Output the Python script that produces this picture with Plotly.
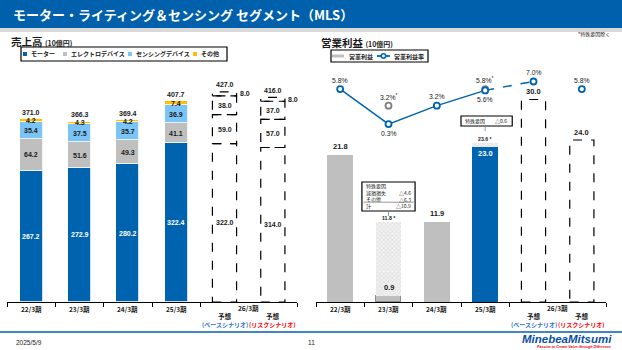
import plotly.graph_objects as go

# ---------------- data ----------------
periods = ["22/3期", "23/3期", "24/3期", "25/3期"]
forecast_year = "26/3期"
forecast_word = "予想"
scenarios = ["(ベースシナリオ)", "(リスクシナリオ)"]
scenario_colors = ["#2E75D0", "#FF0000"]

series_names = ["モーター", "エレクトロデバイス", "センシングデバイス", "その他"]
motor = [267.2, 272.9, 280.2, 322.4, 322.0, 314.0]
electro = [64.2, 51.6, 49.3, 41.1, 59.0, 57.0]
sensing = [35.4, 37.5, 35.7, 36.9, 38.0, 37.0]
other = [4.2, 4.3, 4.2, 7.4, 8.0, 8.0]
sales_total = [371.0, 366.3, 369.4, 407.7, 427.0, 416.0]

op_income = [21.8, 0.9, 11.9, 23.0, 30.0, 24.0]
special_items = [0, 10.9, 0, 0.6, 0, 0]
op_ex_special = [None, 11.8, None, 23.6, None, None]
op_margin = [5.8, 0.3, 3.2, 5.6, 7.0, 5.8]
op_margin_ex_special = [None, 3.2, None, 5.8, None, None]
special_23_rows = ["減損損失", "その他", "計"]
special_23_vals = [4.6, 6.3, 10.9]
special_25_val = 0.6

n_actual = 4
xs = list(range(6))
xa = xs[:n_actual]
xf = xs[n_actual:]

# ---------------- style ----------------
W, H = 622, 350
BLUE = "#0063B0"
GRAY = "#BFBFBF"
LBLUE = "#7AC4F7"
YELLOW = "#FFC000"
TXT = "#1A1A1A"
JP = "Noto Sans CJK JP"
NUM = "Liberation Sans, Arial"
seg_colors = [BLUE, GRAY, LBLUE, YELLOW]


def px(x):
    return x / W


def py(y):
    return 1 - y / H


PLOT_TOP, PLOT_BOT = 70, 302
ydom = [py(PLOT_BOT), py(PLOT_TOP)]

fig = go.Figure()
ann = []
shapes = []


def da(x, y, text, size, color=TXT, xref="x", yref="y", yshift=0, anchor="center",
       weight="bold", family=NUM):
    ann.append(dict(x=x, y=y, xref=xref, yref=yref, text=text, showarrow=False,
                    xanchor=anchor, yanchor="middle", yshift=yshift,
                    font=dict(size=size, color=color, family=family, weight=weight)))


def a(x, y, text, size, color=TXT, xref="paper", anchor="center", family=JP, weight="bold"):
    ann.append(dict(x=x, y=py(y), xref=xref, yref="paper", text=text, showarrow=False,
                    xanchor=anchor, yanchor="middle",
                    font=dict(size=size, color=color, family=family, weight=weight)))


def dashed_box(i, y0, y1, w, xr, yr):
    fig.add_trace(go.Scatter(x=[i - w, i + w, i + w, i - w, i - w], y=[y0, y0, y1, y1, y0],
                             mode="lines", line=dict(color="black", width=1.2, dash="dash"),
                             xaxis=xr, yaxis=yr, showlegend=False, hoverinfo="skip"))


# ---------------- left: sales ----------------
segments = [motor, electro, sensing, other]
for name, vals, col in zip(series_names, segments, seg_colors):
    fig.add_trace(go.Bar(x=xa, y=vals[:n_actual], name=name, marker_color=col,
                         marker_line=dict(color="white", width=0.8), width=0.48,
                         xaxis="x", yaxis="y", showlegend=False, hoverinfo="skip"))

for i in xf:
    base = 0
    for vals in segments:
        dashed_box(i, base, base + vals[i], 0.25, "x", "y")
        base += vals[i]

base = [0] * 6
for k, vals in enumerate(segments):
    for i in xs:
        mid = base[i] + vals[i] / 2
        lab = f"{vals[i]:.1f}"
        if k == 3 and i in xf:
            da(i + 0.28, mid, lab, 7, anchor="left")
        else:
            col = "white" if (k == 0 and i < n_actual) else TXT
            da(i, mid, lab, 7, col)
    base = [base[i] + vals[i] for i in xs]
for i in xs:
    da(i, sales_total[i], f"{sales_total[i]:.1f}", 7, yshift=7)

# ---------------- right: operating income ----------------
op_cols = [GRAY, GRAY, GRAY, BLUE]
op_line = ["rgba(0,0,0,0)", "#8C8C8C", "rgba(0,0,0,0)", "rgba(0,0,0,0)"]
fig.add_trace(go.Bar(x=xa, y=op_income[:n_actual], name="営業利益",
                     marker=dict(color=op_cols, line=dict(color=op_line, width=1)),
                     width=0.53, xaxis="x2", yaxis="y2", showlegend=False, hoverinfo="skip"))
fig.add_trace(go.Bar(x=xa, y=special_items[:n_actual],
                     marker=dict(color="white", line=dict(width=0),
                                 pattern=dict(shape="x", fgcolor="#CFCFCF", bgcolor="#F4F4F4",
                                              size=3, solidity=0.5)),
                     width=0.53, xaxis="x2", yaxis="y2", showlegend=False, hoverinfo="skip"))
for i in xf:
    dashed_box(i, 0, op_income[i], 0.25, "x2", "y2")

for i in xs:
    if i == 3:
        da(i, op_income[i], f"{op_income[i]:.1f}", 7.5, "white", "x2", "y2", yshift=-7)
    else:
        da(i, op_income[i], f"{op_income[i]:.1f}", 7.5, TXT, "x2", "y2", yshift=8)
    if op_ex_special[i] is not None:
        da(i, op_ex_special[i], f"{op_ex_special[i]:.1f} *", 5.2, TXT, "x2", "y2", yshift=4)

# margin line
fig.add_trace(go.Scatter(x=xa, y=op_margin[:n_actual], mode="lines",
                         line=dict(color=BLUE, width=1.5),
                         xaxis="x2", yaxis="y3", showlegend=False, hoverinfo="skip"))
fig.add_trace(go.Scatter(x=[3, 4], y=[op_margin[3], op_margin[4]], mode="lines",
                         line=dict(color=BLUE, width=1.5, dash="dash"),
                         xaxis="x2", yaxis="y3", showlegend=False, hoverinfo="skip"))
ex_idx = [i for i in xs if op_margin_ex_special[i] is not None]
fig.add_trace(go.Scatter(x=ex_idx, y=[op_margin_ex_special[i] for i in ex_idx], mode="markers",
                         marker=dict(symbol="circle", size=6, color="white",
                                     line=dict(color="#7F7F7F", width=1.8)),
                         xaxis="x2", yaxis="y3", showlegend=False, hoverinfo="skip"))
fig.add_trace(go.Scatter(x=xs, y=op_margin, mode="markers",
                         marker=dict(symbol="circle", size=6, color="white",
                                     line=dict(color=BLUE, width=1.8)),
                         xaxis="x2", yaxis="y3", showlegend=False, hoverinfo="skip"))
below = [False, True, False, True, False, False]
for i in xs:
    da(i, op_margin[i], f"{op_margin[i]:.1f}%", 6.8, TXT, "x2", "y3",
       yshift=-9 if below[i] else 9, weight="normal")
for i in ex_idx:
    da(i, op_margin_ex_special[i], f"{op_margin_ex_special[i]:.1f}%<sup>*</sup>", 6.8, TXT,
       "x2", "y3", yshift=9, weight="normal")

# ---------------- decorations ----------------
shapes.append(dict(type="rect", xref="paper", yref="paper", x0=0, x1=1, y0=py(28), y1=1,
                   fillcolor="#0060AC", line=dict(width=0), layer="below"))
shapes.append(dict(type="rect", xref="paper", yref="paper", x0=0, x1=1, y0=py(32), y1=py(28),
                   fillcolor="#D9D9D9", line=dict(width=0), layer="below"))
a(px(11), 14.5, "モーター・ライティング＆センシング セグメント（MLS）", 13, "white", anchor="left")

shapes.append(dict(type="line", xref="paper", yref="paper", x0=0, x1=1, y0=py(332), y1=py(332),
                   line=dict(color="#0060AC", width=1.5)))
a(px(14), 342, "2025/5/9", 6.5, anchor="left", family=NUM, weight="normal")
a(px(311), 342, "11", 6.5, family=NUM, weight="normal")
a(px(614), 338.5, "<i>MinebeaMitsumi</i>", 11.5, "#0A4FA0", anchor="right", family=NUM)
a(px(613), 346.5, "<i>Passion to Create Value through Difference</i>", 3.6, "#E60012",
  anchor="right", family=NUM)
a(px(612), 33.5, "*特殊要因除く", 5, anchor="right", weight="normal")

a(px(9), 41.5, "売上高 <span style='font-size:7px'>(10億円)</span>", 10.5, anchor="left")
a(px(319), 42, "営業利益 <span style='font-size:7px'>(10億円)</span>", 10.5, anchor="left")

# left legend
shapes.append(dict(type="rect", xref="paper", yref="paper", x0=px(21), x1=px(227),
                   y0=py(61), y1=py(47), line=dict(color="black", width=1.2), fillcolor="white"))
leg_x = [23, 63, 128, 193]
for lx, name, col in zip(leg_x, series_names, seg_colors):
    shapes.append(dict(type="rect", xref="paper", yref="paper", x0=px(lx), x1=px(lx + 4),
                       y0=py(56), y1=py(52), line=dict(width=0), fillcolor=col))
    a(px(lx + 6), 54, name, 6, anchor="left")

# right legend
shapes.append(dict(type="rect", xref="paper", yref="paper", x0=px(331), x1=px(428),
                   y0=py(62), y1=py(50), line=dict(color="black", width=1.2), fillcolor="white"))
shapes.append(dict(type="rect", xref="paper", yref="paper", x0=px(332), x1=px(344),
                   y0=py(57.5), y1=py(54.5), line=dict(width=0), fillcolor=GRAY))
a(px(347), 56, "営業利益", 6, anchor="left")
shapes.append(dict(type="line", xref="paper", yref="paper", x0=px(377), x1=px(390),
                   y0=py(56), y1=py(56), line=dict(color=BLUE, width=1.8)))
shapes.append(dict(type="circle", xref="paper", yref="paper", x0=px(381.3), x1=px(385.7),
                   y0=py(58.2), y1=py(53.8), line=dict(color=BLUE, width=1.5), fillcolor="white"))
a(px(392), 56, "営業利益率", 6, anchor="left")

for xr in ["x", "x2"]:
    for i, p in enumerate(periods):
        a(i, 309, p, 6.5, xref=xr)
    a(4.5, 308, forecast_year, 6.5, xref=xr)
    for j, i in enumerate(xf):
        a(i, 316, forecast_word, 6.5, xref=xr)
        a(i, 324.5, scenarios[j], 6, scenario_colors[j], xref=xr)

# special factor boxes
shapes.append(dict(type="rect", xref="x2", yref="paper", x0=1 - 0.55, x1=1 + 0.55,
                   y0=py(211), y1=py(182), line=dict(color="black", width=1.2), fillcolor="white"))
a(1 - 0.5, 186, "特殊要因", 5, xref="x2", anchor="left", weight="normal")
row_y = [192.5, 199, 205.5]
for r, v, yy in zip(special_23_rows, special_23_vals, row_y):
    a(1 - 0.5, yy, r, 5, xref="x2", anchor="left", weight="normal")
    a(1 + 0.5, yy, f"△{v:.1f}", 5, xref="x2", anchor="right", weight="normal")
shapes.append(dict(type="line", xref="x2", yref="paper", x0=1 - 0.52, x1=1 + 0.52,
                   y0=py(202.2), y1=py(202.2), line=dict(color="#808080", width=0.8)))
shapes.append(dict(type="line", xref="x2", yref="paper", x0=1, x1=1, y0=py(212), y1=py(216),
                   line=dict(color="#808080", width=0.8)))

shapes.append(dict(type="rect", xref="x2", yref="paper", x0=3 - 0.5, x1=3 + 0.56,
                   y0=py(126), y1=py(116), line=dict(color="black", width=1.2), fillcolor="white"))
a(3 - 0.45, 121, "特殊要因", 5, xref="x2", anchor="left", weight="normal")
a(3 + 0.5, 121, f"△{special_25_val:.1f}", 5, xref="x2", anchor="right", weight="normal")
shapes.append(dict(type="line", xref="x2", yref="paper", x0=3, x1=3, y0=py(127), y1=py(131),
                   line=dict(color="#808080", width=0.8)))

# ---------------- layout ----------------
tickv = [-0.5, 0.5, 1.5, 2.5, 3.5, 5.5]
xcommon = dict(range=[-0.5, 5.5], tickvals=tickv, ticks="outside", ticklen=4, tickwidth=1.2,
               tickcolor="black", showticklabels=False, showline=True, linecolor="black",
               linewidth=1.3, showgrid=False, zeroline=False, fixedrange=True)
left_max = (PLOT_BOT - PLOT_TOP) / 0.492
right_max = (PLOT_BOT - PLOT_TOP) / 6.75
zero_y3 = 126
m_scale = 6.36
fig.update_layout(
    width=W, height=H, autosize=False,
    margin=dict(l=0, r=0, t=0, b=0),
    paper_bgcolor="white", plot_bgcolor="rgba(0,0,0,0)",
    barmode="stack", bargap=0,
    showlegend=False,
    xaxis=dict(domain=[px(7), px(297)], anchor="y", **xcommon),
    yaxis=dict(domain=ydom, range=[0, left_max], visible=False, anchor="x"),
    xaxis2=dict(domain=[px(316), px(606)], anchor="y2", **xcommon),
    yaxis2=dict(domain=ydom, range=[0, right_max], visible=False, anchor="x2"),
    yaxis3=dict(domain=ydom, overlaying="y2", anchor="x2", visible=False,
                range=[-(PLOT_BOT - zero_y3) / m_scale, (zero_y3 - PLOT_TOP) / m_scale]),
    shapes=shapes,
    annotations=ann,
    font=dict(family=JP),
)

fig.write_html("out.html", config={"displayModeBar": False})
